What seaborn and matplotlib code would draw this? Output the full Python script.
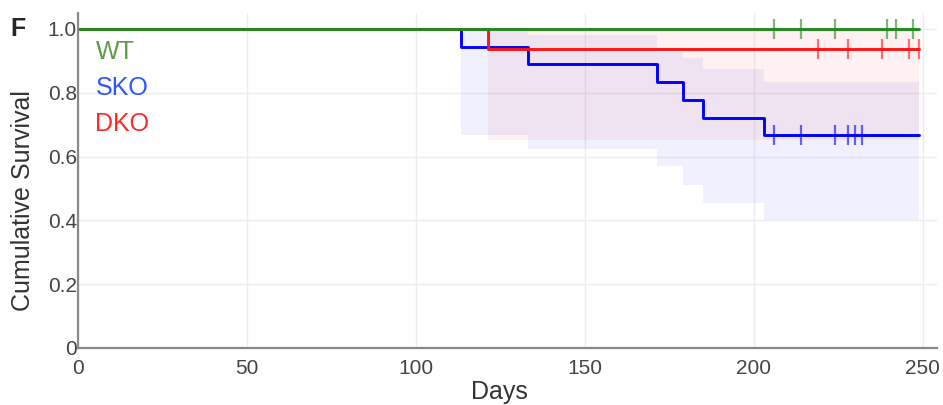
import numpy as np
import pandas as pd
import matplotlib
matplotlib.use("Agg")
import matplotlib.pyplot as plt
import seaborn as sns

# step curves (days, survival)
wt_days = [0, 249.0]
wt_surv = [1.0, 1.0]
sko_days = [0, 113.2, 133.2, 171.2, 179.0, 185.0, 202.9, 249.0]
sko_surv = [1.0, 0.944, 0.889, 0.833, 0.778, 0.722, 0.667, 0.667]
dko_days = [0, 121.3, 249.0]
dko_surv = [1.0, 0.938, 0.938]

# confidence bands
sko_band_days = [113.2, 133.2, 171.2, 179.0, 185.0, 202.9, 249.0]
sko_lo = [0.667, 0.625, 0.569, 0.511, 0.453, 0.401, 0.401]
sko_hi = [1.0, 0.98, 0.929, 0.908, 0.873, 0.835, 0.835]
dko_band_days = [121.3, 249.0]
dko_lo = [0.652, 0.652]
dko_hi = [1.0, 1.0]

# censored observations
wt_cens = [205.9, 213.8, 223.9, 239.3, 242.1, 247.0]
sko_cens = [205.9, 213.8, 224.1, 228.0, 230.0, 231.9]
dko_cens = [219.1, 227.8, 238.0, 245.9, 248.8]

groups = ["WT", "SKO", "DKO"]
line_colors = {"WT": "#1f8a1f", "SKO": "#0000ff", "DKO": "#ff1414"}
text_colors = {"WT": "#5f9a4a", "SKO": "#2f55ff", "DKO": "#ff2a2a"}

sns.set_style("white")
plt.rcParams["font.family"] = ["Liberation Sans", "DejaVu Sans"]

fig = plt.figure(figsize=(9.43, 4.05), dpi=100)
ax = fig.add_axes([0.083, 0.141, 0.911, 0.826])

# bands
ax.fill_between(sko_band_days, sko_lo, sko_hi, step="post",
                color=line_colors["SKO"], alpha=0.06, linewidth=0)
ax.fill_between(dko_band_days, dko_lo, dko_hi, step="post",
                color=line_colors["DKO"], alpha=0.06, linewidth=0)

curves = {
    "WT": (wt_days, wt_surv, wt_cens),
    "SKO": (sko_days, sko_surv, sko_cens),
    "DKO": (dko_days, dko_surv, dko_cens),
}
order = ["SKO", "DKO", "WT"]
for g in order:
    d, s, c = curves[g]
    sns.lineplot(x=d, y=s, ax=ax, drawstyle="steps-post", color=line_colors[g],
                 linewidth=2.1, estimator=None, sort=False)
    # censor marks at the survival level in effect
    lvl = [s[np.searchsorted(d, t, side="right") - 1] for t in c]
    sns.scatterplot(x=c, y=lvl, ax=ax, marker="|", s=200, linewidth=1.6,
                    color=line_colors[g], alpha=0.6, zorder=4)

ax.set_xlim(0, 254.3)
ax.set_ylim(0, 1.049)
ax.set_xticks([0, 50, 100, 150, 200, 250])
ax.set_yticks([0, 0.2, 0.4, 0.6, 0.8, 1.0])
ax.set_yticklabels(["0", "0.2", "0.4", "0.6", "0.8", "1.0"])
ax.grid(True, color="#ececec", linewidth=1.0)
ax.set_axisbelow(True)
for side in ["top", "right"]:
    ax.spines[side].set_visible(False)
for side in ["left", "bottom"]:
    ax.spines[side].set_color("#8a8a8a")
    ax.spines[side].set_linewidth(1.6)
ax.tick_params(axis="both", length=0, labelsize=15, labelcolor="#444444")
ax.tick_params(axis="x", pad=8)
ax.tick_params(axis="y", pad=1)

ax.set_xlabel("Days", fontsize=18, color="#333333", labelpad=-2)
ax.xaxis.set_label_coords(0.49, -0.095)
ax.set_ylabel("Cumulative Survival", fontsize=18, color="#333333")
ax.yaxis.set_label_coords(-0.05, 0.44)

# group labels
for i, g in enumerate(groups):
    ax.text(0.02, 0.885 - i * 0.108, g, transform=ax.transAxes, fontsize=18,
            color=text_colors[g], va="center", ha="left")

fig.text(0.011, 0.928, "F", fontsize=18, fontweight="bold", va="center")

fig.savefig("out.png", dpi=100)
